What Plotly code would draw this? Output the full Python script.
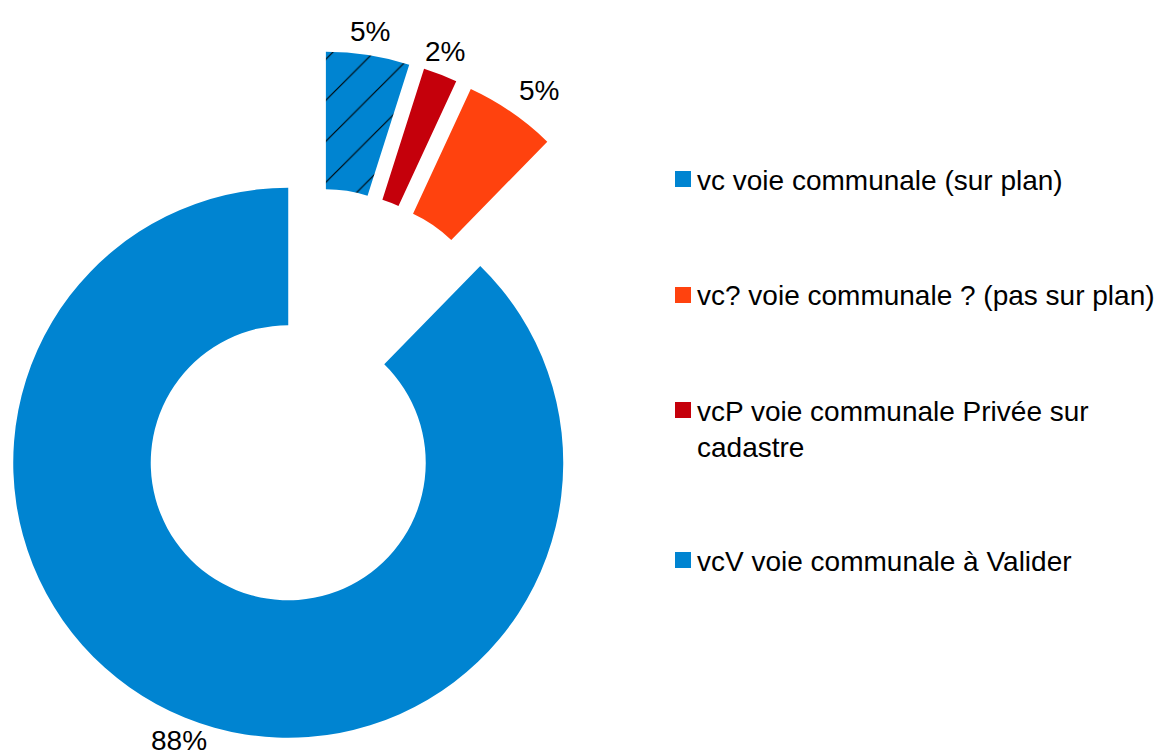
import math
import plotly.graph_objects as go

# ---- data ----
CATEGORIES = ["vc", "vcP", "vc?", "vcV"]          # slice order, clockwise from 12 o'clock
VALUES = [4.9, 2.0, 5.4, 87.7]                     # shares (%)
COLORS = ["#0084D1", "#C5000B", "#FF420E", "#0084D1"]
PATTERNS = ["/", "", "", ""]

LEGEND_KEYS = ["vc", "vc?", "vcP", "vcV"]           # legend order
LEGEND_TEXT = [
    "vc voie communale (sur plan)",
    "vc? voie communale ? (pas sur plan)",
    "vcP voie communale Privée sur<br>cadastre",
    "vcV voie communale à Valider",
]

# ---- layout constants (screen pixels) ----
OFF = 8                      # page body margin
W, H = 1163 - OFF, 751 - OFF
CX0, CY0 = 315.0, 397.0      # un-exploded centre
R = 275.0                    # outer radius
PULL_PX = 71.0               # explosion distance
LABEL_R = 289.0              # label anchor distance from slice centre
FONT = "Liberation Sans, Arial, sans-serif"
FS = 28


def px(x):
    return (x - OFF) / W


def py(y):
    return (H - (y - OFF)) / H


fig = go.Figure()
total = sum(VALUES)
cum = 0.0
TRANSP = "rgba(0,0,0,0)"
annotations = []
for i, v in enumerate(VALUES):
    mid = (cum + v / 2) / total * 2 * math.pi
    cum += v
    s, c = math.sin(mid), math.cos(mid)
    cx = CX0 + PULL_PX * s
    cy = CY0 - PULL_PX * c
    colors = [COLORS[j] if j == i else TRANSP for j in range(len(VALUES))]
    shapes_p = [PATTERNS[j] if j == i else "" for j in range(len(VALUES))]
    fig.add_trace(go.Pie(
        labels=CATEGORIES,
        values=VALUES,
        sort=False,
        direction="clockwise",
        rotation=0,
        hole=0.5,
        marker=dict(
            colors=colors,
            line=dict(width=0),
            pattern=dict(shape=shapes_p, fgcolor="black", bgcolor=colors,
                         size=29, solidity=0.04),
        ),
        textinfo="none",
        showlegend=False,
        hoverinfo="label+percent",
        domain=dict(
            x=[px(cx - R), px(cx + R)],
            y=[py(cy + R), py(cy - R)],
        ),
    ))
    # percentage label, placed outside the slice along its bisector
    txt = f"{round(v / total * 100):d}%"
    tw = FS * (0.556 * (len(txt) - 1) + 0.889)
    th = 0.716 * FS
    k = round(math.degrees(mid) / 45.0) % 8
    sx = round(math.sin(math.radians(k * 45)))
    sy = round(-math.cos(math.radians(k * 45)))
    ax = cx + LABEL_R * s + sx * tw / 2
    ay = cy - LABEL_R * c + sy * th / 2
    annotations.append(dict(xref="paper", yref="paper", x=px(ax), y=py(ay),
                            xanchor="center", yanchor="middle",
                            text=txt, showarrow=False,
                            font=dict(family=FONT, size=FS, color="black")))

# ---- custom legend ----
LEG_X_SWATCH = 675
SW = 16
LEG_X_TEXT = 695
LEG_Y = [179, 295, 410, 560]          # swatch centres
TEXT_Y = [180, 296, 429, 561]         # text block centres
shapes = []
for k, key in enumerate(LEGEND_KEYS):
    col = COLORS[CATEGORIES.index(key)]
    yc = LEG_Y[k]
    shapes.append(dict(type="rect", xref="paper", yref="paper",
                       x0=px(LEG_X_SWATCH), x1=px(LEG_X_SWATCH + SW),
                       y0=py(yc + SW / 2), y1=py(yc - SW / 2),
                       fillcolor=col, line=dict(width=0)))
    annotations.append(dict(xref="paper", yref="paper",
                            x=px(LEG_X_TEXT), y=py(TEXT_Y[k]),
                            xanchor="left", yanchor="middle", align="left",
                            text=LEGEND_TEXT[k], showarrow=False,
                            font=dict(family=FONT, size=FS, color="black")))

fig.update_layout(
    width=W, height=H,
    margin=dict(l=0, r=0, t=0, b=0),
    paper_bgcolor="white", plot_bgcolor="white",
    showlegend=False,
    shapes=shapes,
    annotations=annotations,
)

fig.write_html("out.html")
